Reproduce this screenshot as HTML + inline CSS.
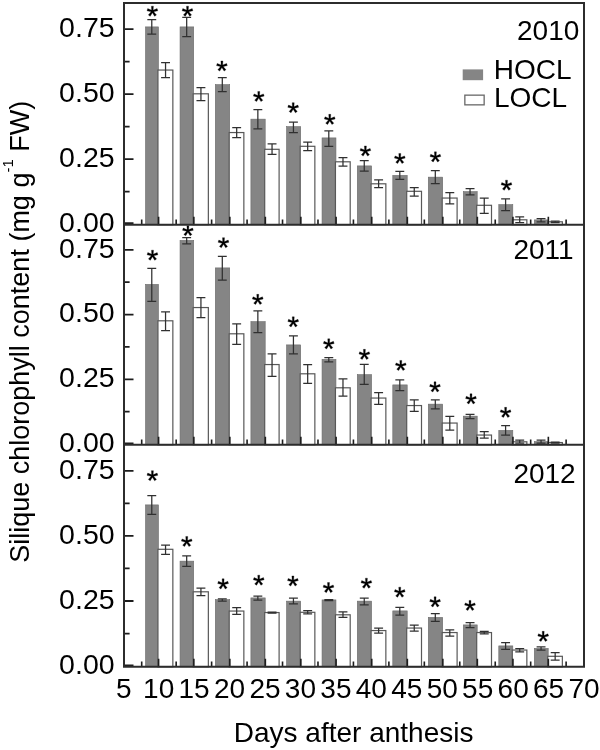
<!DOCTYPE html>
<html><head><meta charset="utf-8"><title>Silique chlorophyll content</title>
<style>html,body{margin:0;padding:0;background:#fff}svg{display:block;will-change:transform}text{font-family:"Liberation Sans",sans-serif;fill:#000}</style></head><body>
<svg width="600" height="750" viewBox="0 0 600 750">
<rect x="0" y="0" width="600" height="750" fill="#fff"/>
<g id="p0">
<rect x="145.50" y="26.90" width="12.95" height="197.85" fill="#858585" stroke="#6a6a6a" stroke-width="0.6"/>
<rect x="157.95" y="70.05" width="14.90" height="154.70" fill="#fff" stroke="#585858" stroke-width="1.2"/>
<path d="M147.33 19.60H156.22M147.33 34.10H156.22M151.78 19.60V34.10" stroke="#303030" stroke-width="1.25" fill="none"/>
<path d="M161.10 62.50H170.00M161.10 77.50H170.00M165.55 62.50V77.50" stroke="#303030" stroke-width="1.25" fill="none"/>
<path d="M153.10 11.65L153.40 6.15L151.40 6.15L151.70 11.65ZM152.33 12.11L157.80 10.81L157.09 8.62L151.90 10.78ZM151.66 11.52L154.58 16.31L156.45 14.96L152.79 10.70ZM152.01 10.70L148.35 14.96L150.22 16.31L153.14 11.52ZM152.90 10.78L147.71 8.62L147.00 10.81L152.47 12.11Z" fill="#000" stroke="#000" stroke-width="0.3" stroke-linejoin="round"/>
<rect x="180.05" y="26.90" width="13.65" height="197.85" fill="#858585" stroke="#6a6a6a" stroke-width="0.6"/>
<rect x="193.20" y="93.80" width="15.15" height="130.95" fill="#fff" stroke="#585858" stroke-width="1.2"/>
<path d="M182.23 17.40H191.12M182.23 36.70H191.12M186.68 17.40V36.70" stroke="#303030" stroke-width="1.25" fill="none"/>
<path d="M196.48 87.50H205.38M196.48 100.50H205.38M200.93 87.50V100.50" stroke="#303030" stroke-width="1.25" fill="none"/>
<path d="M188.20 11.65L188.50 6.15L186.50 6.15L186.80 11.65ZM187.43 12.11L192.90 10.81L192.19 8.62L187.00 10.78ZM186.76 11.52L189.68 16.31L191.55 14.96L187.89 10.70ZM187.11 10.70L183.45 14.96L185.32 16.31L188.24 11.52ZM188.00 10.78L182.81 8.62L182.10 10.81L187.57 12.11Z" fill="#000" stroke="#000" stroke-width="0.3" stroke-linejoin="round"/>
<rect x="215.30" y="84.65" width="14.40" height="140.10" fill="#858585" stroke="#6a6a6a" stroke-width="0.6"/>
<rect x="229.20" y="132.55" width="14.65" height="92.20" fill="#fff" stroke="#585858" stroke-width="1.2"/>
<path d="M217.85 77.50H226.75M217.85 91.50H226.75M222.30 77.50V91.50" stroke="#303030" stroke-width="1.25" fill="none"/>
<path d="M232.23 127.50H241.12M232.23 137.50H241.12M236.68 127.50V137.50" stroke="#303030" stroke-width="1.25" fill="none"/>
<path d="M222.60 66.45L222.90 60.95L220.90 60.95L221.20 66.45ZM221.83 66.91L227.30 65.61L226.59 63.42L221.40 65.58ZM221.16 66.32L224.08 71.11L225.95 69.76L222.29 65.50ZM221.51 65.50L217.85 69.76L219.72 71.11L222.64 66.32ZM222.40 65.58L217.21 63.42L216.50 65.61L221.97 66.91Z" fill="#000" stroke="#000" stroke-width="0.3" stroke-linejoin="round"/>
<rect x="250.90" y="119.15" width="14.30" height="105.60" fill="#858585" stroke="#6a6a6a" stroke-width="0.6"/>
<rect x="264.70" y="149.30" width="14.40" height="75.45" fill="#fff" stroke="#585858" stroke-width="1.2"/>
<path d="M253.40 109.50H262.30M253.40 128.75H262.30M257.85 109.50V128.75" stroke="#303030" stroke-width="1.25" fill="none"/>
<path d="M267.60 143.75H276.50M267.60 154.25H276.50M272.05 143.75V154.25" stroke="#303030" stroke-width="1.25" fill="none"/>
<path d="M259.45 96.95L259.75 91.45L257.75 91.45L258.05 96.95ZM258.68 97.41L264.15 96.11L263.44 93.92L258.25 96.08ZM258.01 96.82L260.93 101.61L262.80 100.26L259.14 96.00ZM258.36 96.00L254.70 100.26L256.57 101.61L259.49 96.82ZM259.25 96.08L254.06 93.92L253.35 96.11L258.82 97.41Z" fill="#000" stroke="#000" stroke-width="0.3" stroke-linejoin="round"/>
<rect x="286.55" y="126.65" width="14.15" height="98.10" fill="#858585" stroke="#6a6a6a" stroke-width="0.6"/>
<rect x="300.20" y="146.30" width="14.65" height="78.45" fill="#fff" stroke="#585858" stroke-width="1.2"/>
<path d="M288.98 122.00H297.88M288.98 132.50H297.88M293.43 122.00V132.50" stroke="#303030" stroke-width="1.25" fill="none"/>
<path d="M303.23 142.00H312.12M303.23 150.50H312.12M307.68 142.00V150.50" stroke="#303030" stroke-width="1.25" fill="none"/>
<path d="M293.90 108.15L294.20 102.65L292.20 102.65L292.50 108.15ZM293.13 108.61L298.60 107.31L297.89 105.12L292.70 107.28ZM292.46 108.02L295.38 112.81L297.25 111.46L293.59 107.20ZM292.81 107.20L289.15 111.46L291.02 112.81L293.94 108.02ZM293.70 107.28L288.51 105.12L287.80 107.31L293.27 108.61Z" fill="#000" stroke="#000" stroke-width="0.3" stroke-linejoin="round"/>
<rect x="322.05" y="137.90" width="13.90" height="86.85" fill="#858585" stroke="#6a6a6a" stroke-width="0.6"/>
<rect x="335.45" y="161.80" width="14.75" height="62.95" fill="#fff" stroke="#585858" stroke-width="1.2"/>
<path d="M324.35 130.75H333.25M324.35 146.25H333.25M328.80 130.75V146.25" stroke="#303030" stroke-width="1.25" fill="none"/>
<path d="M338.53 157.50H347.43M338.53 166.10H347.43M342.98 157.50V166.10" stroke="#303030" stroke-width="1.25" fill="none"/>
<path d="M330.45 119.85L330.75 114.35L328.75 114.35L329.05 119.85ZM329.68 120.31L335.15 119.01L334.44 116.82L329.25 118.98ZM329.01 119.72L331.93 124.51L333.80 123.16L330.14 118.90ZM329.36 118.90L325.70 123.16L327.57 124.51L330.49 119.72ZM330.25 118.98L325.06 116.82L324.35 119.01L329.82 120.31Z" fill="#000" stroke="#000" stroke-width="0.3" stroke-linejoin="round"/>
<rect x="357.30" y="165.90" width="14.30" height="58.85" fill="#858585" stroke="#6a6a6a" stroke-width="0.6"/>
<rect x="371.10" y="183.80" width="14.75" height="40.95" fill="#fff" stroke="#585858" stroke-width="1.2"/>
<path d="M359.80 160.50H368.70M359.80 171.00H368.70M364.25 160.50V171.00" stroke="#303030" stroke-width="1.25" fill="none"/>
<path d="M374.18 179.75H383.07M374.18 187.50H383.07M378.62 179.75V187.50" stroke="#303030" stroke-width="1.25" fill="none"/>
<path d="M366.10 151.45L366.40 145.95L364.40 145.95L364.70 151.45ZM365.33 151.91L370.80 150.61L370.09 148.42L364.90 150.58ZM364.66 151.32L367.58 156.11L369.45 154.76L365.79 150.50ZM365.01 150.50L361.35 154.76L363.22 156.11L366.14 151.32ZM365.90 150.58L360.71 148.42L360.00 150.61L365.47 151.91Z" fill="#000" stroke="#000" stroke-width="0.3" stroke-linejoin="round"/>
<rect x="392.80" y="175.40" width="14.40" height="49.35" fill="#858585" stroke="#6a6a6a" stroke-width="0.6"/>
<rect x="406.70" y="191.30" width="14.80" height="33.45" fill="#fff" stroke="#585858" stroke-width="1.2"/>
<path d="M395.35 171.25H404.25M395.35 179.25H404.25M399.80 171.25V179.25" stroke="#303030" stroke-width="1.25" fill="none"/>
<path d="M409.80 187.50H418.70M409.80 196.00H418.70M414.25 187.50V196.00" stroke="#303030" stroke-width="1.25" fill="none"/>
<path d="M400.50 158.95L400.80 153.45L398.80 153.45L399.10 158.95ZM399.73 159.41L405.20 158.11L404.49 155.92L399.30 158.08ZM399.06 158.82L401.98 163.61L403.85 162.26L400.19 158.00ZM399.41 158.00L395.75 162.26L397.62 163.61L400.54 158.82ZM400.30 158.08L395.11 155.92L394.40 158.11L399.87 159.41Z" fill="#000" stroke="#000" stroke-width="0.3" stroke-linejoin="round"/>
<rect x="428.30" y="177.15" width="14.40" height="47.60" fill="#858585" stroke="#6a6a6a" stroke-width="0.6"/>
<rect x="442.20" y="198.05" width="14.90" height="26.70" fill="#fff" stroke="#585858" stroke-width="1.2"/>
<path d="M430.85 170.50H439.75M430.85 183.50H439.75M435.30 170.50V183.50" stroke="#303030" stroke-width="1.25" fill="none"/>
<path d="M445.35 192.50H454.25M445.35 203.75H454.25M449.80 192.50V203.75" stroke="#303030" stroke-width="1.25" fill="none"/>
<path d="M436.10 157.35L436.40 151.85L434.40 151.85L434.70 157.35ZM435.33 157.81L440.80 156.51L440.09 154.32L434.90 156.48ZM434.66 157.22L437.58 162.01L439.45 160.66L435.79 156.40ZM435.01 156.40L431.35 160.66L433.22 162.01L436.14 157.22ZM435.90 156.48L430.71 154.32L430.00 156.51L435.47 157.81Z" fill="#000" stroke="#000" stroke-width="0.3" stroke-linejoin="round"/>
<rect x="463.30" y="191.65" width="13.90" height="33.10" fill="#858585" stroke="#6a6a6a" stroke-width="0.6"/>
<rect x="476.70" y="205.30" width="14.80" height="19.45" fill="#fff" stroke="#585858" stroke-width="1.2"/>
<path d="M465.60 188.50H474.50M465.60 194.75H474.50M470.05 188.50V194.75" stroke="#303030" stroke-width="1.25" fill="none"/>
<path d="M479.80 198.00H488.70M479.80 213.25H488.70M484.25 198.00V213.25" stroke="#303030" stroke-width="1.25" fill="none"/>
<rect x="498.80" y="204.65" width="14.00" height="20.10" fill="#858585" stroke="#6a6a6a" stroke-width="0.6"/>
<rect x="512.30" y="219.80" width="14.55" height="4.95" fill="#fff" stroke="#585858" stroke-width="1.2"/>
<path d="M501.15 198.75H510.05M501.15 210.50H510.05M505.60 198.75V210.50" stroke="#303030" stroke-width="1.25" fill="none"/>
<path d="M515.27 216.75H524.17M515.27 222.50H524.17M519.72 216.75V222.50" stroke="#303030" stroke-width="1.25" fill="none"/>
<path d="M507.20 185.65L507.50 180.15L505.50 180.15L505.80 185.65ZM506.43 186.11L511.90 184.81L511.19 182.62L506.00 184.78ZM505.76 185.52L508.68 190.31L510.55 188.96L506.89 184.70ZM506.11 184.70L502.45 188.96L504.32 190.31L507.24 185.52ZM507.00 184.78L501.81 182.62L501.10 184.81L506.57 186.11Z" fill="#000" stroke="#000" stroke-width="0.3" stroke-linejoin="round"/>
<rect x="534.30" y="219.90" width="13.90" height="4.85" fill="#858585" stroke="#6a6a6a" stroke-width="0.6"/>
<rect x="547.70" y="221.80" width="14.65" height="2.95" fill="#fff" stroke="#585858" stroke-width="1.2"/>
<path d="M536.60 218.50H545.50M536.60 221.75H545.50M541.05 218.50V221.75" stroke="#303030" stroke-width="1.25" fill="none"/>
<path d="M550.72 221.00H559.62M550.72 222.50H559.62M555.17 221.00V222.50" stroke="#303030" stroke-width="1.25" fill="none"/>
<path d="M141.70 224.75v-5.3M158.60 224.75v-8.1M176.17 224.75v-5.3M193.85 224.75v-8.1M211.62 224.75v-5.3M229.85 224.75v-8.1M247.08 224.75v-5.3M265.35 224.75v-8.1M282.53 224.75v-5.3M300.85 224.75v-8.1M317.98 224.75v-5.3M336.10 224.75v-8.1M353.43 224.75v-5.3M371.75 224.75v-8.1M388.88 224.75v-5.3M407.35 224.75v-8.1M424.33 224.75v-5.3M442.85 224.75v-8.1M459.77 224.75v-5.3M477.35 224.75v-8.1M495.23 224.75v-5.3M512.95 224.75v-8.1M530.68 224.75v-5.3M548.35 224.75v-8.1M566.12 224.75v-5.3" stroke="#1c1c1c" stroke-width="1.6" fill="none"/>
<path d="M124.00 29.05h9.5M124.00 61.55h5.6M124.00 94.05h9.5M124.00 126.55h5.6M124.00 159.05h9.5M124.00 191.55h5.6M124.00 223.25h9.5" stroke="#1c1c1c" stroke-width="1.8" fill="none"/>
<text x="114.6" y="36.85" font-size="28.5" text-anchor="end">0.75</text>
<text x="114.6" y="101.85" font-size="28.5" text-anchor="end">0.50</text>
<text x="114.6" y="166.85" font-size="28.5" text-anchor="end">0.25</text>
<text x="114.6" y="231.85" font-size="28.5" text-anchor="end">0.00</text>
</g>
<g id="p1">
<rect x="145.50" y="284.40" width="12.95" height="160.40" fill="#858585" stroke="#6a6a6a" stroke-width="0.6"/>
<rect x="157.95" y="320.80" width="14.90" height="124.00" fill="#fff" stroke="#585858" stroke-width="1.2"/>
<path d="M147.33 268.25H156.22M147.33 301.25H156.22M151.78 268.25V301.25" stroke="#303030" stroke-width="1.25" fill="none"/>
<path d="M161.10 311.75H170.00M161.10 330.50H170.00M165.55 311.75V330.50" stroke="#303030" stroke-width="1.25" fill="none"/>
<path d="M153.20 255.65L153.50 250.15L151.50 250.15L151.80 255.65ZM152.43 256.11L157.90 254.81L157.19 252.62L152.00 254.78ZM151.76 255.52L154.68 260.31L156.55 258.96L152.89 254.70ZM152.11 254.70L148.45 258.96L150.32 260.31L153.24 255.52ZM153.00 254.78L147.81 252.62L147.10 254.81L152.57 256.11Z" fill="#000" stroke="#000" stroke-width="0.3" stroke-linejoin="round"/>
<rect x="180.05" y="240.40" width="13.65" height="204.40" fill="#858585" stroke="#6a6a6a" stroke-width="0.6"/>
<rect x="193.20" y="307.55" width="15.15" height="137.25" fill="#fff" stroke="#585858" stroke-width="1.2"/>
<path d="M182.23 237.50H191.12M182.23 243.75H191.12M186.68 237.50V243.75" stroke="#303030" stroke-width="1.25" fill="none"/>
<path d="M196.48 297.50H205.38M196.48 317.50H205.38M200.93 297.50V317.50" stroke="#303030" stroke-width="1.25" fill="none"/>
<path d="M188.60 231.15L188.90 225.65L186.90 225.65L187.20 231.15ZM187.83 231.61L193.30 230.31L192.59 228.12L187.40 230.28ZM187.16 231.02L190.08 235.81L191.95 234.46L188.29 230.20ZM187.51 230.20L183.85 234.46L185.72 235.81L188.64 231.02ZM188.40 230.28L183.21 228.12L182.50 230.31L187.97 231.61Z" fill="#000" stroke="#000" stroke-width="0.3" stroke-linejoin="round"/>
<rect x="215.30" y="267.90" width="14.40" height="176.90" fill="#858585" stroke="#6a6a6a" stroke-width="0.6"/>
<rect x="229.20" y="333.80" width="14.65" height="111.00" fill="#fff" stroke="#585858" stroke-width="1.2"/>
<path d="M217.85 256.25H226.75M217.85 280.00H226.75M222.30 256.25V280.00" stroke="#303030" stroke-width="1.25" fill="none"/>
<path d="M232.23 323.75H241.12M232.23 344.25H241.12M236.68 323.75V344.25" stroke="#303030" stroke-width="1.25" fill="none"/>
<path d="M224.20 243.15L224.50 237.65L222.50 237.65L222.80 243.15ZM223.43 243.61L228.90 242.31L228.19 240.12L223.00 242.28ZM222.76 243.02L225.68 247.81L227.55 246.46L223.89 242.20ZM223.11 242.20L219.45 246.46L221.32 247.81L224.24 243.02ZM224.00 242.28L218.81 240.12L218.10 242.31L223.57 243.61Z" fill="#000" stroke="#000" stroke-width="0.3" stroke-linejoin="round"/>
<rect x="250.90" y="321.65" width="14.30" height="123.15" fill="#858585" stroke="#6a6a6a" stroke-width="0.6"/>
<rect x="264.70" y="364.55" width="14.40" height="80.25" fill="#fff" stroke="#585858" stroke-width="1.2"/>
<path d="M253.40 310.75H262.30M253.40 332.50H262.30M257.85 310.75V332.50" stroke="#303030" stroke-width="1.25" fill="none"/>
<path d="M267.60 353.75H276.50M267.60 376.25H276.50M272.05 353.75V376.25" stroke="#303030" stroke-width="1.25" fill="none"/>
<path d="M258.45 299.85L258.75 294.35L256.75 294.35L257.05 299.85ZM257.68 300.31L263.15 299.01L262.44 296.82L257.25 298.98ZM257.01 299.72L259.93 304.51L261.80 303.16L258.14 298.90ZM257.36 298.90L253.70 303.16L255.57 304.51L258.49 299.72ZM258.25 298.98L253.06 296.82L252.35 299.01L257.82 300.31Z" fill="#000" stroke="#000" stroke-width="0.3" stroke-linejoin="round"/>
<rect x="286.55" y="344.90" width="14.15" height="99.90" fill="#858585" stroke="#6a6a6a" stroke-width="0.6"/>
<rect x="300.20" y="373.80" width="14.65" height="71.00" fill="#fff" stroke="#585858" stroke-width="1.2"/>
<path d="M288.98 335.75H297.88M288.98 353.75H297.88M293.43 335.75V353.75" stroke="#303030" stroke-width="1.25" fill="none"/>
<path d="M303.23 364.50H312.12M303.23 383.25H312.12M307.68 364.50V383.25" stroke="#303030" stroke-width="1.25" fill="none"/>
<path d="M293.95 322.35L294.25 316.85L292.25 316.85L292.55 322.35ZM293.18 322.81L298.65 321.51L297.94 319.32L292.75 321.48ZM292.51 322.22L295.43 327.01L297.30 325.66L293.64 321.40ZM292.86 321.40L289.20 325.66L291.07 327.01L293.99 322.22ZM293.75 321.48L288.56 319.32L287.85 321.51L293.32 322.81Z" fill="#000" stroke="#000" stroke-width="0.3" stroke-linejoin="round"/>
<rect x="322.05" y="359.40" width="13.90" height="85.40" fill="#858585" stroke="#6a6a6a" stroke-width="0.6"/>
<rect x="335.45" y="387.80" width="14.75" height="57.00" fill="#fff" stroke="#585858" stroke-width="1.2"/>
<path d="M324.35 357.50H333.25M324.35 361.75H333.25M328.80 357.50V361.75" stroke="#303030" stroke-width="1.25" fill="none"/>
<path d="M338.53 378.75H347.43M338.53 396.10H347.43M342.98 378.75V396.10" stroke="#303030" stroke-width="1.25" fill="none"/>
<path d="M329.45 344.35L329.75 338.85L327.75 338.85L328.05 344.35ZM328.68 344.81L334.15 343.51L333.44 341.32L328.25 343.48ZM328.01 344.22L330.93 349.01L332.80 347.66L329.14 343.40ZM328.36 343.40L324.70 347.66L326.57 349.01L329.49 344.22ZM329.25 343.48L324.06 341.32L323.35 343.51L328.82 344.81Z" fill="#000" stroke="#000" stroke-width="0.3" stroke-linejoin="round"/>
<rect x="357.30" y="374.65" width="14.30" height="70.15" fill="#858585" stroke="#6a6a6a" stroke-width="0.6"/>
<rect x="371.10" y="398.05" width="14.75" height="46.75" fill="#fff" stroke="#585858" stroke-width="1.2"/>
<path d="M359.80 364.25H368.70M359.80 384.25H368.70M364.25 364.25V384.25" stroke="#303030" stroke-width="1.25" fill="none"/>
<path d="M374.18 392.50H383.07M374.18 404.25H383.07M378.62 392.50V404.25" stroke="#303030" stroke-width="1.25" fill="none"/>
<path d="M365.10 354.85L365.40 349.35L363.40 349.35L363.70 354.85ZM364.33 355.31L369.80 354.01L369.09 351.82L363.90 353.98ZM363.66 354.72L366.58 359.51L368.45 358.16L364.79 353.90ZM364.01 353.90L360.35 358.16L362.22 359.51L365.14 354.72ZM364.90 353.98L359.71 351.82L359.00 354.01L364.47 355.31Z" fill="#000" stroke="#000" stroke-width="0.3" stroke-linejoin="round"/>
<rect x="392.80" y="384.90" width="14.40" height="59.90" fill="#858585" stroke="#6a6a6a" stroke-width="0.6"/>
<rect x="406.70" y="405.55" width="14.80" height="39.25" fill="#fff" stroke="#585858" stroke-width="1.2"/>
<path d="M395.35 379.75H404.25M395.35 390.50H404.25M399.80 379.75V390.50" stroke="#303030" stroke-width="1.25" fill="none"/>
<path d="M409.80 399.75H418.70M409.80 411.25H418.70M414.25 399.75V411.25" stroke="#303030" stroke-width="1.25" fill="none"/>
<path d="M401.50 365.95L401.80 360.45L399.80 360.45L400.10 365.95ZM400.73 366.41L406.20 365.11L405.49 362.92L400.30 365.08ZM400.06 365.82L402.98 370.61L404.85 369.26L401.19 365.00ZM400.41 365.00L396.75 369.26L398.62 370.61L401.54 365.82ZM401.30 365.08L396.11 362.92L395.40 365.11L400.87 366.41Z" fill="#000" stroke="#000" stroke-width="0.3" stroke-linejoin="round"/>
<rect x="428.30" y="404.15" width="14.40" height="40.65" fill="#858585" stroke="#6a6a6a" stroke-width="0.6"/>
<rect x="442.20" y="423.05" width="14.90" height="21.75" fill="#fff" stroke="#585858" stroke-width="1.2"/>
<path d="M430.85 399.75H439.75M430.85 408.75H439.75M435.30 399.75V408.75" stroke="#303030" stroke-width="1.25" fill="none"/>
<path d="M445.35 416.25H454.25M445.35 430.00H454.25M449.80 416.25V430.00" stroke="#303030" stroke-width="1.25" fill="none"/>
<path d="M435.70 387.35L436.00 381.85L434.00 381.85L434.30 387.35ZM434.93 387.81L440.40 386.51L439.69 384.32L434.50 386.48ZM434.26 387.22L437.18 392.01L439.05 390.66L435.39 386.40ZM434.61 386.40L430.95 390.66L432.82 392.01L435.74 387.22ZM435.50 386.48L430.31 384.32L429.60 386.51L435.07 387.81Z" fill="#000" stroke="#000" stroke-width="0.3" stroke-linejoin="round"/>
<rect x="463.30" y="416.15" width="13.90" height="28.65" fill="#858585" stroke="#6a6a6a" stroke-width="0.6"/>
<rect x="476.70" y="435.05" width="14.80" height="9.75" fill="#fff" stroke="#585858" stroke-width="1.2"/>
<path d="M465.60 414.25H474.50M465.60 418.50H474.50M470.05 414.25V418.50" stroke="#303030" stroke-width="1.25" fill="none"/>
<path d="M479.80 431.50H488.70M479.80 438.00H488.70M484.25 431.50V438.00" stroke="#303030" stroke-width="1.25" fill="none"/>
<path d="M471.70 399.35L472.00 393.85L470.00 393.85L470.30 399.35ZM470.93 399.81L476.40 398.51L475.69 396.32L470.50 398.48ZM470.26 399.22L473.18 404.01L475.05 402.66L471.39 398.40ZM470.61 398.40L466.95 402.66L468.82 404.01L471.74 399.22ZM471.50 398.48L466.31 396.32L465.60 398.51L471.07 399.81Z" fill="#000" stroke="#000" stroke-width="0.3" stroke-linejoin="round"/>
<rect x="498.80" y="430.40" width="14.00" height="14.40" fill="#858585" stroke="#6a6a6a" stroke-width="0.6"/>
<rect x="512.30" y="441.80" width="14.55" height="3.00" fill="#fff" stroke="#585858" stroke-width="1.2"/>
<path d="M501.15 425.50H510.05M501.15 435.00H510.05M505.60 425.50V435.00" stroke="#303030" stroke-width="1.25" fill="none"/>
<path d="M515.27 440.00H524.17M515.27 443.00H524.17M519.72 440.00V443.00" stroke="#303030" stroke-width="1.25" fill="none"/>
<path d="M506.30 412.85L506.60 407.35L504.60 407.35L504.90 412.85ZM505.53 413.31L511.00 412.01L510.29 409.82L505.10 411.98ZM504.86 412.72L507.78 417.51L509.65 416.16L505.99 411.90ZM505.21 411.90L501.55 416.16L503.42 417.51L506.34 412.72ZM506.10 411.98L500.91 409.82L500.20 412.01L505.67 413.31Z" fill="#000" stroke="#000" stroke-width="0.3" stroke-linejoin="round"/>
<rect x="534.30" y="441.65" width="13.90" height="3.15" fill="#858585" stroke="#6a6a6a" stroke-width="0.6"/>
<rect x="547.70" y="442.55" width="14.65" height="2.25" fill="#fff" stroke="#585858" stroke-width="1.2"/>
<path d="M536.60 440.00H545.50M536.60 443.00H545.50M541.05 440.00V443.00" stroke="#303030" stroke-width="1.25" fill="none"/>
<path d="M550.72 442.00H559.62M550.72 443.00H559.62M555.17 442.00V443.00" stroke="#303030" stroke-width="1.25" fill="none"/>
<path d="M141.70 444.80v-5.3M158.60 444.80v-8.1M176.17 444.80v-5.3M193.85 444.80v-8.1M211.62 444.80v-5.3M229.85 444.80v-8.1M247.08 444.80v-5.3M265.35 444.80v-8.1M282.53 444.80v-5.3M300.85 444.80v-8.1M317.98 444.80v-5.3M336.10 444.80v-8.1M353.43 444.80v-5.3M371.75 444.80v-8.1M388.88 444.80v-5.3M407.35 444.80v-8.1M424.33 444.80v-5.3M442.85 444.80v-8.1M459.77 444.80v-5.3M477.35 444.80v-8.1M495.23 444.80v-5.3M512.95 444.80v-8.1M530.68 444.80v-5.3M548.35 444.80v-8.1M566.12 444.80v-5.3" stroke="#1c1c1c" stroke-width="1.6" fill="none"/>
<path d="M124.00 249.80h9.5M124.00 282.18h5.6M124.00 314.57h9.5M124.00 346.95h5.6M124.00 379.33h9.5M124.00 411.72h5.6M124.00 443.30h9.5" stroke="#1c1c1c" stroke-width="1.8" fill="none"/>
<text x="114.6" y="257.60" font-size="28.5" text-anchor="end">0.75</text>
<text x="114.6" y="322.37" font-size="28.5" text-anchor="end">0.50</text>
<text x="114.6" y="387.13" font-size="28.5" text-anchor="end">0.25</text>
<text x="114.6" y="451.90" font-size="28.5" text-anchor="end">0.00</text>
</g>
<g id="p2">
<rect x="145.50" y="504.90" width="12.95" height="161.90" fill="#858585" stroke="#6a6a6a" stroke-width="0.6"/>
<rect x="157.95" y="549.30" width="14.90" height="117.50" fill="#fff" stroke="#585858" stroke-width="1.2"/>
<path d="M147.33 495.50H156.22M147.33 514.25H156.22M151.78 495.50V514.25" stroke="#303030" stroke-width="1.25" fill="none"/>
<path d="M161.10 545.00H170.00M161.10 554.25H170.00M165.55 545.00V554.25" stroke="#303030" stroke-width="1.25" fill="none"/>
<path d="M153.10 476.15L153.40 470.65L151.40 470.65L151.70 476.15ZM152.33 476.61L157.80 475.31L157.09 473.12L151.90 475.28ZM151.66 476.02L154.58 480.81L156.45 479.46L152.79 475.20ZM152.01 475.20L148.35 479.46L150.22 480.81L153.14 476.02ZM152.90 475.28L147.71 473.12L147.00 475.31L152.47 476.61Z" fill="#000" stroke="#000" stroke-width="0.3" stroke-linejoin="round"/>
<rect x="180.05" y="561.15" width="13.65" height="105.65" fill="#858585" stroke="#6a6a6a" stroke-width="0.6"/>
<rect x="193.20" y="591.80" width="15.15" height="75.00" fill="#fff" stroke="#585858" stroke-width="1.2"/>
<path d="M182.23 555.75H191.12M182.23 566.25H191.12M186.68 555.75V566.25" stroke="#303030" stroke-width="1.25" fill="none"/>
<path d="M196.48 588.00H205.38M196.48 595.50H205.38M200.93 588.00V595.50" stroke="#303030" stroke-width="1.25" fill="none"/>
<path d="M187.45 541.95L187.75 536.45L185.75 536.45L186.05 541.95ZM186.68 542.41L192.15 541.11L191.44 538.92L186.25 541.08ZM186.01 541.82L188.93 546.61L190.80 545.26L187.14 541.00ZM186.36 541.00L182.70 545.26L184.57 546.61L187.49 541.82ZM187.25 541.08L182.06 538.92L181.35 541.11L186.82 542.41Z" fill="#000" stroke="#000" stroke-width="0.3" stroke-linejoin="round"/>
<rect x="215.30" y="599.65" width="14.40" height="67.15" fill="#858585" stroke="#6a6a6a" stroke-width="0.6"/>
<rect x="229.20" y="611.05" width="14.65" height="55.75" fill="#fff" stroke="#585858" stroke-width="1.2"/>
<path d="M217.85 598.75H226.75M217.85 601.00H226.75M222.30 598.75V601.00" stroke="#303030" stroke-width="1.25" fill="none"/>
<path d="M232.23 607.50H241.12M232.23 614.25H241.12M236.68 607.50V614.25" stroke="#303030" stroke-width="1.25" fill="none"/>
<path d="M223.80 584.35L224.10 578.85L222.10 578.85L222.40 584.35ZM223.03 584.81L228.50 583.51L227.79 581.32L222.60 583.48ZM222.36 584.22L225.28 589.01L227.15 587.66L223.49 583.40ZM222.71 583.40L219.05 587.66L220.92 589.01L223.84 584.22ZM223.60 583.48L218.41 581.32L217.70 583.51L223.17 584.81Z" fill="#000" stroke="#000" stroke-width="0.3" stroke-linejoin="round"/>
<rect x="250.90" y="597.90" width="14.30" height="68.90" fill="#858585" stroke="#6a6a6a" stroke-width="0.6"/>
<rect x="264.70" y="612.55" width="14.40" height="54.25" fill="#fff" stroke="#585858" stroke-width="1.2"/>
<path d="M253.40 596.00H262.30M253.40 600.00H262.30M257.85 596.00V600.00" stroke="#303030" stroke-width="1.25" fill="none"/>
<path d="M267.60 612.00H276.50M267.60 613.00H276.50M272.05 612.00V613.00" stroke="#303030" stroke-width="1.25" fill="none"/>
<path d="M259.45 580.65L259.75 575.15L257.75 575.15L258.05 580.65ZM258.68 581.11L264.15 579.81L263.44 577.62L258.25 579.78ZM258.01 580.52L260.93 585.31L262.80 583.96L259.14 579.70ZM258.36 579.70L254.70 583.96L256.57 585.31L259.49 580.52ZM259.25 579.78L254.06 577.62L253.35 579.81L258.82 581.11Z" fill="#000" stroke="#000" stroke-width="0.3" stroke-linejoin="round"/>
<rect x="286.55" y="601.15" width="14.15" height="65.65" fill="#858585" stroke="#6a6a6a" stroke-width="0.6"/>
<rect x="300.20" y="612.30" width="14.65" height="54.50" fill="#fff" stroke="#585858" stroke-width="1.2"/>
<path d="M288.98 598.00H297.88M288.98 603.75H297.88M293.43 598.00V603.75" stroke="#303030" stroke-width="1.25" fill="none"/>
<path d="M303.23 610.50H312.12M303.23 613.75H312.12M307.68 610.50V613.75" stroke="#303030" stroke-width="1.25" fill="none"/>
<path d="M293.60 581.45L293.90 575.95L291.90 575.95L292.20 581.45ZM292.83 581.91L298.30 580.61L297.59 578.42L292.40 580.58ZM292.16 581.32L295.08 586.11L296.95 584.76L293.29 580.50ZM292.51 580.50L288.85 584.76L290.72 586.11L293.64 581.32ZM293.40 580.58L288.21 578.42L287.50 580.61L292.97 581.91Z" fill="#000" stroke="#000" stroke-width="0.3" stroke-linejoin="round"/>
<rect x="322.05" y="599.90" width="13.90" height="66.90" fill="#858585" stroke="#6a6a6a" stroke-width="0.6"/>
<rect x="335.45" y="614.80" width="14.75" height="52.00" fill="#fff" stroke="#585858" stroke-width="1.2"/>
<path d="M324.35 599.50H333.25M324.35 600.50H333.25M328.80 599.50V600.50" stroke="#303030" stroke-width="1.25" fill="none"/>
<path d="M338.53 611.75H347.43M338.53 617.25H347.43M342.98 611.75V617.25" stroke="#303030" stroke-width="1.25" fill="none"/>
<path d="M329.20 588.00L329.50 582.50L327.50 582.50L327.80 588.00ZM328.43 588.46L333.90 587.16L333.19 584.97L328.00 587.13ZM327.76 587.87L330.68 592.66L332.55 591.31L328.89 587.05ZM328.11 587.05L324.45 591.31L326.32 592.66L329.24 587.87ZM329.00 587.13L323.81 584.97L323.10 587.16L328.57 588.46Z" fill="#000" stroke="#000" stroke-width="0.3" stroke-linejoin="round"/>
<rect x="357.30" y="601.15" width="14.30" height="65.65" fill="#858585" stroke="#6a6a6a" stroke-width="0.6"/>
<rect x="371.10" y="630.55" width="14.75" height="36.25" fill="#fff" stroke="#585858" stroke-width="1.2"/>
<path d="M359.80 598.00H368.70M359.80 604.75H368.70M364.25 598.00V604.75" stroke="#303030" stroke-width="1.25" fill="none"/>
<path d="M374.18 628.00H383.07M374.18 633.00H383.07M378.62 628.00V633.00" stroke="#303030" stroke-width="1.25" fill="none"/>
<path d="M367.10 583.65L367.40 578.15L365.40 578.15L365.70 583.65ZM366.33 584.11L371.80 582.81L371.09 580.62L365.90 582.78ZM365.66 583.52L368.58 588.31L370.45 586.96L366.79 582.70ZM366.01 582.70L362.35 586.96L364.22 588.31L367.14 583.52ZM366.90 582.78L361.71 580.62L361.00 582.81L366.47 584.11Z" fill="#000" stroke="#000" stroke-width="0.3" stroke-linejoin="round"/>
<rect x="392.80" y="610.90" width="14.40" height="55.90" fill="#858585" stroke="#6a6a6a" stroke-width="0.6"/>
<rect x="406.70" y="628.05" width="14.80" height="38.75" fill="#fff" stroke="#585858" stroke-width="1.2"/>
<path d="M395.35 607.25H404.25M395.35 615.00H404.25M399.80 607.25V615.00" stroke="#303030" stroke-width="1.25" fill="none"/>
<path d="M409.80 625.00H418.70M409.80 631.00H418.70M414.25 625.00V631.00" stroke="#303030" stroke-width="1.25" fill="none"/>
<path d="M400.45 592.65L400.75 587.15L398.75 587.15L399.05 592.65ZM399.68 593.11L405.15 591.81L404.44 589.62L399.25 591.78ZM399.01 592.52L401.93 597.31L403.80 595.96L400.14 591.70ZM399.36 591.70L395.70 595.96L397.57 597.31L400.49 592.52ZM400.25 591.78L395.06 589.62L394.35 591.81L399.82 593.11Z" fill="#000" stroke="#000" stroke-width="0.3" stroke-linejoin="round"/>
<rect x="428.30" y="617.40" width="14.40" height="49.40" fill="#858585" stroke="#6a6a6a" stroke-width="0.6"/>
<rect x="442.20" y="632.55" width="14.90" height="34.25" fill="#fff" stroke="#585858" stroke-width="1.2"/>
<path d="M430.85 613.50H439.75M430.85 621.25H439.75M435.30 613.50V621.25" stroke="#303030" stroke-width="1.25" fill="none"/>
<path d="M445.35 629.75H454.25M445.35 636.00H454.25M449.80 629.75V636.00" stroke="#303030" stroke-width="1.25" fill="none"/>
<path d="M435.80 602.35L436.10 596.85L434.10 596.85L434.40 602.35ZM435.03 602.81L440.50 601.51L439.79 599.32L434.60 601.48ZM434.36 602.22L437.28 607.01L439.15 605.66L435.49 601.40ZM434.71 601.40L431.05 605.66L432.92 607.01L435.84 602.22ZM435.60 601.48L430.41 599.32L429.70 601.51L435.17 602.81Z" fill="#000" stroke="#000" stroke-width="0.3" stroke-linejoin="round"/>
<rect x="463.30" y="624.90" width="13.90" height="41.90" fill="#858585" stroke="#6a6a6a" stroke-width="0.6"/>
<rect x="476.70" y="632.55" width="14.80" height="34.25" fill="#fff" stroke="#585858" stroke-width="1.2"/>
<path d="M465.60 622.50H474.50M465.60 627.50H474.50M470.05 622.50V627.50" stroke="#303030" stroke-width="1.25" fill="none"/>
<path d="M479.80 631.25H488.70M479.80 633.75H488.70M484.25 631.25V633.75" stroke="#303030" stroke-width="1.25" fill="none"/>
<path d="M470.70 605.95L471.00 600.45L469.00 600.45L469.30 605.95ZM469.93 606.41L475.40 605.11L474.69 602.92L469.50 605.08ZM469.26 605.82L472.18 610.61L474.05 609.26L470.39 605.00ZM469.61 605.00L465.95 609.26L467.82 610.61L470.74 605.82ZM470.50 605.08L465.31 602.92L464.60 605.11L470.07 606.41Z" fill="#000" stroke="#000" stroke-width="0.3" stroke-linejoin="round"/>
<rect x="498.80" y="645.90" width="14.00" height="20.90" fill="#858585" stroke="#6a6a6a" stroke-width="0.6"/>
<rect x="512.30" y="650.05" width="14.55" height="16.75" fill="#fff" stroke="#585858" stroke-width="1.2"/>
<path d="M501.15 642.50H510.05M501.15 649.25H510.05M505.60 642.50V649.25" stroke="#303030" stroke-width="1.25" fill="none"/>
<path d="M515.27 648.50H524.17M515.27 651.75H524.17M519.72 648.50V651.75" stroke="#303030" stroke-width="1.25" fill="none"/>
<rect x="534.30" y="648.40" width="13.90" height="18.40" fill="#858585" stroke="#6a6a6a" stroke-width="0.6"/>
<rect x="547.70" y="656.30" width="14.65" height="10.50" fill="#fff" stroke="#585858" stroke-width="1.2"/>
<path d="M536.60 646.75H545.50M536.60 650.00H545.50M541.05 646.75V650.00" stroke="#303030" stroke-width="1.25" fill="none"/>
<path d="M550.72 652.50H559.62M550.72 660.00H559.62M555.17 652.50V660.00" stroke="#303030" stroke-width="1.25" fill="none"/>
<path d="M543.90 636.85L544.20 631.35L542.20 631.35L542.50 636.85ZM543.13 637.31L548.60 636.01L547.89 633.82L542.70 635.98ZM542.46 636.72L545.38 641.51L547.25 640.16L543.59 635.90ZM542.81 635.90L539.15 640.16L541.02 641.51L543.94 636.72ZM543.70 635.98L538.51 633.82L537.80 636.01L543.27 637.31Z" fill="#000" stroke="#000" stroke-width="0.3" stroke-linejoin="round"/>
<path d="M141.70 666.80v-5.3M158.60 666.80v-8.1M176.17 666.80v-5.3M193.85 666.80v-8.1M211.62 666.80v-5.3M229.85 666.80v-8.1M247.08 666.80v-5.3M265.35 666.80v-8.1M282.53 666.80v-5.3M300.85 666.80v-8.1M317.98 666.80v-5.3M336.10 666.80v-8.1M353.43 666.80v-5.3M371.75 666.80v-8.1M388.88 666.80v-5.3M407.35 666.80v-8.1M424.33 666.80v-5.3M442.85 666.80v-8.1M459.77 666.80v-5.3M477.35 666.80v-8.1M495.23 666.80v-5.3M512.95 666.80v-8.1M530.68 666.80v-5.3M548.35 666.80v-8.1M566.12 666.80v-5.3" stroke="#1c1c1c" stroke-width="1.6" fill="none"/>
<path d="M124.00 470.80h9.5M124.00 503.35h5.6M124.00 535.90h9.5M124.00 568.45h5.6M124.00 601.00h9.5M124.00 633.55h5.6M124.00 665.30h9.5" stroke="#1c1c1c" stroke-width="1.8" fill="none"/>
<text x="114.6" y="478.60" font-size="28.5" text-anchor="end">0.75</text>
<text x="114.6" y="543.70" font-size="28.5" text-anchor="end">0.50</text>
<text x="114.6" y="608.80" font-size="28.5" text-anchor="end">0.25</text>
<text x="114.6" y="673.90" font-size="28.5" text-anchor="end">0.00</text>
</g>
<path d="M124.0 3.1H584.0V666.8H124.0Z M124.0 224.75H584.0 M124.0 444.8H584.0" stroke="#2c2c2c" stroke-width="2" fill="none"/>
<text x="123.70" y="697.6" font-size="28" text-anchor="middle">5</text>
<text x="158.65" y="697.6" font-size="28" text-anchor="middle">10</text>
<text x="194.10" y="697.6" font-size="28" text-anchor="middle">15</text>
<text x="229.55" y="697.6" font-size="28" text-anchor="middle">20</text>
<text x="265.00" y="697.6" font-size="28" text-anchor="middle">25</text>
<text x="300.45" y="697.6" font-size="28" text-anchor="middle">30</text>
<text x="335.90" y="697.6" font-size="28" text-anchor="middle">35</text>
<text x="371.35" y="697.6" font-size="28" text-anchor="middle">40</text>
<text x="406.80" y="697.6" font-size="28" text-anchor="middle">45</text>
<text x="442.25" y="697.6" font-size="28" text-anchor="middle">50</text>
<text x="477.70" y="697.6" font-size="28" text-anchor="middle">55</text>
<text x="513.15" y="697.6" font-size="28" text-anchor="middle">60</text>
<text x="548.60" y="697.6" font-size="28" text-anchor="middle">65</text>
<text x="584.05" y="697.6" font-size="28" text-anchor="middle">70</text>
<text x="353.6" y="741.6" font-size="28" text-anchor="middle">Days after anthesis</text>
<text id="yt" transform="translate(29,562.8) rotate(-90)" font-size="27">Silique chlorophyll content (mg g<tspan font-size="15" dy="-16">-1</tspan><tspan dy="16"> FW)</tspan></text>
<text x="517" y="39.8" font-size="28">2010</text>
<text x="513.4" y="258.8" font-size="28">2011</text>
<text x="513.4" y="483" font-size="28">2012</text>
<rect x="462.7" y="69.4" width="20.4" height="10.8" fill="#858585"/>
<rect x="464.85" y="95.15" width="19.3" height="9.7" fill="#fff" stroke="#686868" stroke-width="1.3"/>
<text x="493.8" y="78.8" font-size="28">HOCL</text>
<text x="493.9" y="106.7" font-size="28">LOCL</text>
</svg></body></html>
